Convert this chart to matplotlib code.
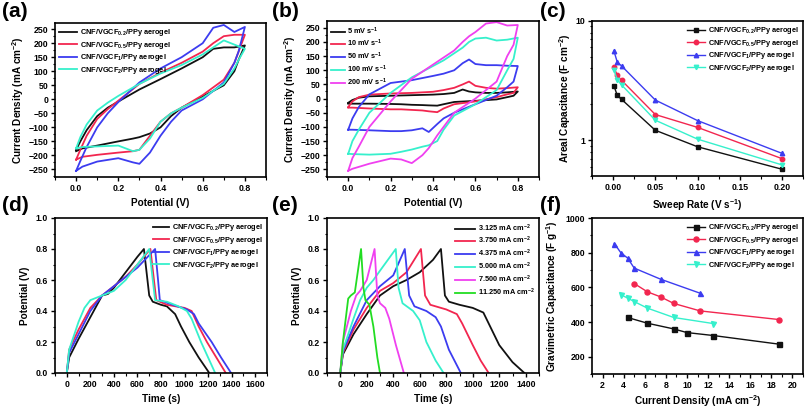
import numpy as np
import matplotlib
matplotlib.use("Agg")
import matplotlib.pyplot as plt
from matplotlib.ticker import MultipleLocator

plt.rcParams['font.family'] = ['Liberation Sans', 'DejaVu Sans']
plt.rcParams['font.weight'] = 'bold'
plt.rcParams['mathtext.fontset'] = 'custom'
plt.rcParams['mathtext.rm'] = 'Liberation Sans:bold'
plt.rcParams['mathtext.bf'] = 'Liberation Sans:bold'
plt.rcParams['mathtext.it'] = 'Liberation Sans:bold:italic'
plt.rcParams['mathtext.default'] = 'bf'

# colours
BLACK = '#111111'
RED = '#f2264f'
BLUE = '#3c3cf0'
CYAN = '#36f0cc'
MAGENTA = '#f040f0'
GREEN = '#22dd22'

# ---- (a) CV of the four aerogels (upper branch: forward scan, lower: reverse)
a_labels = ['CNF/VGCF$_{0.2}$/PPy aerogel', 'CNF/VGCF$_{0.5}$/PPy aerogel',
            'CNF/VGCF$_{1}$/PPy aerogel', 'CNF/VGCF$_{2}$/PPy aerogel']
a_v_up = [0.0, 0.02, 0.05, 0.1, 0.15, 0.2, 0.3, 0.4, 0.5, 0.6, 0.65, 0.7, 0.75, 0.8]
a_v_dn = [0.8, 0.77, 0.75, 0.7, 0.6, 0.5, 0.45, 0.4, 0.35, 0.3, 0.27, 0.2, 0.1, 0.03, 0.0]
a_up = [
    [-180, -150, -110, -60, -30, -8, 35, 72, 110, 150, 180, 185, 185, 192],
    [-215, -180, -130, -70, -35, -5, 55, 95, 130, 170, 200, 225, 230, 230],
    [-255, -220, -170, -100, -50, -10, 60, 110, 150, 200, 255, 265, 240, 258],
    [-175, -135, -90, -40, -12, 12, 55, 92, 122, 160, 185, 210, 195, 180],
]
a_dn = [
    [192, 140, 100, 50, 10, -30, -60, -100, -122, -135, -140, -150, -165, -175, -185],
    [230, 170, 130, 70, 15, -30, -50, -80, -130, -180, -185, -190, -198, -205, -215],
    [258, 170, 130, 60, 0, -40, -80, -130, -190, -230, -225, -210, -222, -240, -255],
    [180, 140, 110, 55, 5, -30, -50, -80, -140, -180, -185, -165, -168, -170, -175],
]
a_colors = [BLACK, RED, BLUE, CYAN]

# ---- (b) CV at different sweep rates
b_labels = ['5 mV s$^{-1}$', '10 mV s$^{-1}$', '50 mV s$^{-1}$',
            '100 mV s$^{-1}$', '200 mV s$^{-1}$']
b_v_up = [0.0, 0.02, 0.05, 0.1, 0.2, 0.3, 0.4, 0.45, 0.5, 0.54, 0.57, 0.6, 0.65, 0.7, 0.75, 0.8]
b_v_dn = [0.8, 0.78, 0.75, 0.7, 0.6, 0.5, 0.45, 0.42, 0.38, 0.35, 0.3, 0.25, 0.2, 0.1, 0.02, 0.0]
b_up = [
    [-15, -5, 3, 8, 10, 12, 14, 16, 20, 32, 25, 22, 20, 20, 22, 25],
    [-30, -10, 5, 14, 18, 20, 24, 30, 38, 50, 60, 45, 38, 35, 37, 40],
    [-110, -70, -30, 15, 55, 65, 80, 88, 100, 125, 138, 122, 118, 118, 116, 115],
    [-195, -150, -110, -50, 20, 75, 115, 135, 160, 180, 200, 212, 215, 205, 208, 215],
    [-255, -210, -170, -100, -10, 70, 120, 145, 170, 200, 220, 235, 265, 270, 258, 260],
]
b_dn = [
    [25, 10, 5, -3, -8, -12, -20, -25, -24, -23, -22, -20, -19, -18, -18, -18],
    [40, 20, 15, 5, -10, -20, -35, -48, -45, -42, -40, -38, -38, -35, -32, -32],
    [115, 60, 40, 10, -20, -50, -70, -90, -118, -105, -112, -115, -115, -112, -110, -110],
    [215, 140, 100, 30, -20, -60, -110, -150, -165, -170, -180, -188, -195, -198, -196, -195],
    [260, 190, 150, 60, 0, -50, -100, -130, -175, -200, -228, -215, -212, -230, -248, -255],
]
b_colors = [BLACK, RED, BLUE, CYAN, MAGENTA]

# ---- (c) areal capacitance vs sweep rate
c_rate = [0.001, 0.005, 0.01, 0.05, 0.1, 0.2]
c_vals = [
    [2.85, 2.37, 2.2, 1.21, 0.88, 0.57],
    [4.08, 3.5, 3.18, 1.64, 1.28, 0.70],
    [5.6, 4.5, 4.2, 2.17, 1.46, 0.775],
    [3.85, 3.22, 2.91, 1.47, 1.02, 0.62],
]
markers = ['s', 'o', '^', 'v']

# ---- (d) GCD of the four aerogels
d_t = [
    [0, 20, 100, 200, 300, 350, 400, 500, 600, 655, 700, 730, 800, 850, 920, 970, 1040, 1120, 1210],
    [0, 20, 100, 200, 300, 400, 500, 600, 710, 740, 760, 850, 1000, 1060, 1120, 1190, 1270, 1350],
    [0, 20, 100, 200, 300, 400, 500, 600, 700, 750, 775, 790, 900, 1020, 1080, 1120, 1230, 1310, 1395],
    [0, 20, 100, 150, 200, 300, 400, 500, 600, 700, 730, 750, 850, 950, 1020, 1060, 1140, 1200, 1260],
]
d_v = [
    [0, 0.1, 0.22, 0.36, 0.5, 0.51, 0.55, 0.65, 0.75, 0.8, 0.5, 0.46, 0.44, 0.43, 0.38, 0.3, 0.2, 0.1, 0.0],
    [0, 0.15, 0.28, 0.42, 0.5, 0.56, 0.62, 0.7, 0.8, 0.6, 0.47, 0.44, 0.42, 0.4, 0.3, 0.2, 0.1, 0.0],
    [0, 0.13, 0.25, 0.4, 0.5, 0.56, 0.62, 0.68, 0.76, 0.8, 0.6, 0.47, 0.44, 0.41, 0.38, 0.32, 0.2, 0.1, 0.0],
    [0, 0.15, 0.33, 0.42, 0.47, 0.5, 0.53, 0.6, 0.7, 0.8, 0.6, 0.47, 0.46, 0.43, 0.4, 0.35, 0.2, 0.1, 0.0],
]

# ---- (e) GCD at different current densities
e_labels = ['3.125 mA cm$^{-2}$', '3.750 mA cm$^{-2}$', '4.375 mA cm$^{-2}$',
            '5.000 mA cm$^{-2}$', '7.500 mA cm$^{-2}$', '11.250 mA cm$^{-2}$']
e_t = [
    [0, 20, 100, 200, 300, 400, 500, 600, 700, 760, 790, 820, 900, 1000, 1080, 1120, 1200, 1300, 1390],
    [0, 20, 100, 200, 300, 400, 500, 609, 640, 680, 800, 880, 920, 1000, 1060, 1120],
    [0, 20, 100, 200, 300, 400, 487, 520, 560, 650, 720, 760, 820, 910],
    [0, 20, 100, 150, 200, 250, 300, 419, 440, 470, 550, 600, 650, 720, 780],
    [0, 20, 80, 120, 150, 200, 259, 280, 300, 340, 370, 420, 480],
    [0, 20, 60, 80, 110, 157, 175, 190, 220, 250, 280, 300],
]
e_v = [
    [0, 0.12, 0.25, 0.38, 0.5, 0.56, 0.6, 0.65, 0.73, 0.8, 0.5, 0.46, 0.44, 0.42, 0.39, 0.32, 0.18, 0.07, 0.0],
    [0, 0.13, 0.28, 0.42, 0.53, 0.58, 0.65, 0.8, 0.5, 0.44, 0.41, 0.38, 0.32, 0.18, 0.08, 0.0],
    [0, 0.14, 0.3, 0.47, 0.56, 0.63, 0.8, 0.5, 0.43, 0.4, 0.36, 0.3, 0.15, 0.0],
    [0, 0.15, 0.35, 0.47, 0.55, 0.6, 0.66, 0.8, 0.55, 0.45, 0.4, 0.34, 0.2, 0.08, 0.0],
    [0, 0.2, 0.4, 0.5, 0.53, 0.6, 0.8, 0.5, 0.45, 0.42, 0.35, 0.18, 0.0],
    [0, 0.2, 0.48, 0.5, 0.52, 0.8, 0.55, 0.47, 0.44, 0.3, 0.1, 0.0],
]
e_colors = [BLACK, RED, BLUE, CYAN, MAGENTA, GREEN]

# ---- (f) gravimetric capacitance vs current density
f_x = [
    [4.375, 6.25, 8.75, 10.0, 12.5, 18.75],
    [5.0, 6.25, 7.5, 8.75, 11.25, 18.75],
    [3.125, 3.75, 4.375, 5.0, 7.5, 11.25],
    [3.75, 4.375, 5.0, 6.25, 8.75, 12.5],
]
f_y = [
    [426, 393, 360, 339, 322, 272],
    [622, 574, 545, 507, 464, 414],
    [852, 798, 769, 711, 647, 566],
    [557, 538, 518, 480, 426, 391],
]

W, H = 805, 407
fig = plt.figure(figsize=(W / 100, H / 100), dpi=100)


def box(x0, y0, x1, y1):
    return fig.add_axes([x0 / W, (H - y1) / H, (x1 - x0) / W, (y1 - y0) / H])


def style(ax):
    for s in ax.spines.values():
        s.set_linewidth(1.2)
    ax.tick_params(which='major', direction='out', length=3, width=1.0, labelsize=6.3, pad=2)
    ax.tick_params(which='minor', direction='out', length=1.8, width=0.8)


def leg(ax, loc, hl=2.6, tp=0.4):
    return ax.legend(loc=loc, frameon=False, fontsize=5.3, handlelength=hl, labelspacing=0.2,
                     borderaxespad=0.2, handletextpad=tp)


lab_kw = dict(fontsize=7.2, fontweight='bold')

# (a)
ax = box(55, 23, 266, 177)
for i in range(4):
    ax.plot(a_v_up + a_v_dn, a_up[i] + a_dn[i], color=a_colors[i], lw=1.3, label=a_labels[i])
ax.set_xlim(-0.1, 0.9)
ax.set_ylim(-277, 272)
ax.xaxis.set_major_locator(MultipleLocator(0.2))
ax.xaxis.set_minor_locator(MultipleLocator(0.1))
ax.yaxis.set_major_locator(MultipleLocator(50))
ax.yaxis.set_minor_locator(MultipleLocator(25))
ax.set_xlabel('Potential (V)', labelpad=4, **lab_kw)
ax.set_ylabel('Current Density (mA cm$^{-2}$)', labelpad=2, **lab_kw)
style(ax)
leg(ax, 'upper left', 2.4)

# (b)
ax = box(327, 21, 539, 177)
for i in range(5):
    ax.plot(b_v_up + b_v_dn, b_up[i] + b_dn[i], color=b_colors[i], lw=1.3, label=b_labels[i])
ax.set_xlim(-0.1, 0.9)
ax.set_ylim(-277, 274)
ax.xaxis.set_major_locator(MultipleLocator(0.2))
ax.xaxis.set_minor_locator(MultipleLocator(0.1))
ax.yaxis.set_major_locator(MultipleLocator(50))
ax.yaxis.set_minor_locator(MultipleLocator(25))
ax.set_xlabel('Potential (V)', labelpad=4, **lab_kw)
ax.set_ylabel('Current Density (mA cm$^{-2}$)', labelpad=2, **lab_kw)
style(ax)
leg(ax, 'upper left', 1.8, 0.3)

# (c)
ax = box(592, 21, 803, 176)
for i in range(4):
    ax.plot(c_rate, c_vals[i], color=a_colors[i], lw=1.0, marker=markers[i], ms=3.2,
            label=a_labels[i])
ax.set_yscale('log')
ax.set_xlim(-0.025, 0.225)
ax.set_ylim(0.5, 10)
ax.xaxis.set_major_locator(MultipleLocator(0.05))
ax.xaxis.set_minor_locator(MultipleLocator(0.025))
ax.set_yticks([1, 10])
ax.set_yticklabels(['1', '10'])
ax.yaxis.set_minor_formatter(plt.NullFormatter())
ax.xaxis.set_major_formatter(plt.FuncFormatter(lambda v, p: '%.2f' % v))
ax.set_xlabel('Sweep Rate (V s$^{-1}$)', labelpad=4, **lab_kw)
ax.set_ylabel('Areal Capacitance (F cm$^{-2}$)', labelpad=2, **lab_kw)
style(ax)
leg(ax, 'upper right', 2.4)

# (d)
ax = box(55, 218, 267, 373)
for i in range(4):
    ax.plot(d_t[i], d_v[i], color=a_colors[i], lw=1.3, label=a_labels[i])
ax.set_xlim(-100, 1700)
ax.set_ylim(0, 1.0)
ax.xaxis.set_major_locator(MultipleLocator(200))
ax.xaxis.set_minor_locator(MultipleLocator(100))
ax.yaxis.set_major_locator(MultipleLocator(0.2))
ax.yaxis.set_minor_locator(MultipleLocator(0.1))
ax.yaxis.set_major_formatter(plt.FuncFormatter(lambda v, p: '%.1f' % v))
ax.set_xlabel('Time (s)', labelpad=4, **lab_kw)
ax.set_ylabel('Potential (V)', labelpad=4, **lab_kw)
style(ax)
leg(ax, 'upper right', 2.2)

# (e)
ax = box(327, 218, 539, 373)
for i in range(6):
    ax.plot(e_t[i], e_v[i], color=e_colors[i], lw=1.3, label=e_labels[i])
ax.set_xlim(-100, 1500)
ax.set_ylim(0, 1.0)
ax.xaxis.set_major_locator(MultipleLocator(200))
ax.xaxis.set_minor_locator(MultipleLocator(100))
ax.yaxis.set_major_locator(MultipleLocator(0.2))
ax.yaxis.set_minor_locator(MultipleLocator(0.1))
ax.yaxis.set_major_formatter(plt.FuncFormatter(lambda v, p: '%.1f' % v))
ax.set_xlabel('Time (s)', labelpad=4, **lab_kw)
ax.set_ylabel('Potential (V)', labelpad=4, **lab_kw)
style(ax)
leg(ax, 'upper right', 2.8, 0.3)

# (f)
ax = box(592, 218, 803, 374)
for i in range(4):
    ax.plot(f_x[i], f_y[i], color=a_colors[i], lw=1.0, marker=markers[i], ms=3.6,
            label=a_labels[i])
ax.set_xlim(1, 21)
ax.set_ylim(100, 1000)
ax.xaxis.set_major_locator(MultipleLocator(2))
ax.xaxis.set_minor_locator(MultipleLocator(1))
ax.yaxis.set_major_locator(MultipleLocator(200))
ax.yaxis.set_minor_locator(MultipleLocator(100))
ax.set_xlabel('Current Density (mA cm$^{-2}$)', labelpad=2, **lab_kw)
ax.set_ylabel('Gravimetric Capacitance (F g$^{-1}$)', labelpad=4, **lab_kw)
style(ax)
leg(ax, 'upper right', 2.4)

# panel letters
for lbl, x, y in [('(a)', 2, 2), ('(b)', 272, 2), ('(c)', 540, 2),
                  ('(d)', 2, 196), ('(e)', 272, 196), ('(f)', 540, 196)]:
    fig.text(x / W, 1 - y / H, lbl, fontsize=15, fontweight='bold', va='top', ha='left')

fig.savefig('out.png', dpi=100)
